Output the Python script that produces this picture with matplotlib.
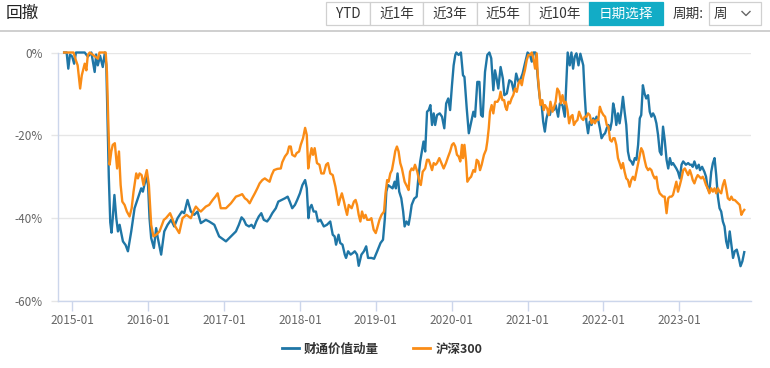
import matplotlib
matplotlib.use("Agg")
import matplotlib.pyplot as plt
import matplotlib.dates as mdates
from matplotlib.patches import Rectangle
from matplotlib.lines import Line2D
from matplotlib.ticker import FixedLocator, FuncFormatter
import pandas as pd

plt.rcParams['font.family'] = ['Noto Sans CJK SC', 'DejaVu Sans']

# ---------------- data ----------------
title = "回撤"
buttons = ["YTD", "近1年", "近3年", "近5年", "近10年", "日期选择"]
period_label = "周期:"
period_value = "周"
series_names = ["财通价值动量", "沪深300"]
y_ticks = [0, -20, -40, -60]
x_tick_labels = ["2015-01", "2016-01", "2017-01", "2018-01", "2019-01",
                 "2020-01", "2021-01", "2022-01", "2023-01"]

blue_dates = [
    '2014-11-23', '2014-12-05', '2014-12-13', '2014-12-21', '2015-01-01', '2015-01-10', '2015-01-19', '2015-03-02',
    '2015-03-17', '2015-04-03', '2015-04-19', '2015-04-26', '2015-05-04', '2015-05-15', '2015-05-28', '2015-06-07',
    '2015-06-14', '2015-06-20', '2015-06-26', '2015-07-03', '2015-07-09', '2015-07-15', '2015-07-23', '2015-08-01',
    '2015-08-09', '2015-08-17', '2015-09-02', '2015-09-15', '2015-09-26', '2015-10-12', '2015-10-28', '2015-11-13',
    '2015-11-29', '2015-12-07', '2015-12-23', '2016-01-01', '2016-01-08', '2016-01-16', '2016-01-29', '2016-02-09',
    '2016-02-17', '2016-03-04', '2016-03-19', '2016-04-04', '2016-04-21', '2016-05-06', '2016-05-22', '2016-06-12',
    '2016-06-23', '2016-07-09', '2016-07-25', '2016-08-10', '2016-08-26', '2016-09-11', '2016-10-05', '2016-10-21',
    '2016-11-15', '2016-12-08', '2017-01-10', '2017-02-03', '2017-02-27', '2017-03-13', '2017-03-26', '2017-04-06',
    '2017-04-17', '2017-05-01', '2017-05-13', '2017-05-24', '2017-06-05', '2017-06-17', '2017-06-29', '2017-07-11',
    '2017-07-27', '2017-08-08', '2017-08-21', '2017-09-07', '2017-09-19', '2017-10-05', '2017-10-21', '2017-11-03',
    '2017-11-13', '2017-11-25', '2017-12-08', '2017-12-19', '2018-01-01', '2018-01-13', '2018-01-26', '2018-02-03',
    '2018-02-11', '2018-02-17', '2018-02-26', '2018-03-08', '2018-03-19', '2018-03-29', '2018-04-10', '2018-04-26',
    '2018-05-11', '2018-05-27', '2018-06-08', '2018-06-17', '2018-06-24', '2018-07-06', '2018-07-14', '2018-07-25',
    '2018-08-05', '2018-08-11', '2018-08-21', '2018-09-02', '2018-09-13', '2018-09-22', '2018-10-03', '2018-10-11',
    '2018-10-24', '2018-11-05', '2018-11-16', '2018-11-25', '2018-12-11', '2018-12-24', '2019-01-08', '2019-01-24',
    '2019-02-05', '2019-02-14', '2019-02-21', '2019-03-01', '2019-03-12', '2019-03-23', '2019-04-02', '2019-04-08',
    '2019-04-16', '2019-04-24', '2019-05-04', '2019-05-13', '2019-05-20', '2019-05-29', '2019-06-08', '2019-06-15',
    '2019-06-23', '2019-07-05', '2019-07-17', '2019-07-25', '2019-08-03', '2019-08-11', '2019-08-19', '2019-08-27',
    '2019-09-05', '2019-09-13', '2019-09-21', '2019-09-29', '2019-10-07', '2019-10-14', '2019-10-23', '2019-11-05',
    '2019-11-16', '2019-11-27', '2019-12-06', '2019-12-16', '2019-12-25', '2020-01-03', '2020-01-11', '2020-01-19',
    '2020-01-24', '2020-02-04', '2020-02-15', '2020-02-25', '2020-03-03', '2020-03-14', '2020-03-24', '2020-04-03',
    '2020-04-15', '2020-04-23', '2020-05-04', '2020-05-14', '2020-05-22', '2020-05-30', '2020-06-10', '2020-06-21',
    '2020-07-01', '2020-07-10', '2020-07-20', '2020-07-28', '2020-08-05', '2020-08-13', '2020-08-24', '2020-09-04',
    '2020-09-11', '2020-09-23', '2020-10-05', '2020-10-16', '2020-10-27', '2020-11-07', '2020-11-18', '2020-11-29',
    '2020-12-08', '2020-12-19', '2021-01-01', '2021-01-13', '2021-01-21', '2021-01-29', '2021-02-08', '2021-02-14',
    '2021-02-22', '2021-03-01', '2021-03-09', '2021-03-17', '2021-03-25', '2021-04-02', '2021-04-10', '2021-04-18',
    '2021-04-26', '2021-05-07', '2021-05-16', '2021-05-28', '2021-06-05', '2021-06-18', '2021-06-29', '2021-07-07',
    '2021-07-13', '2021-07-23', '2021-07-31', '2021-08-08', '2021-08-16', '2021-08-24', '2021-09-03', '2021-09-12',
    '2021-09-26', '2021-10-03', '2021-10-11', '2021-10-19', '2021-10-27', '2021-11-05', '2021-11-13', '2021-11-21',
    '2021-11-29', '2021-12-07', '2021-12-15', '2021-12-23', '2022-01-01', '2022-01-09', '2022-01-17', '2022-01-25',
    '2022-02-02', '2022-02-10', '2022-02-17', '2022-02-24', '2022-03-04', '2022-03-12', '2022-03-20', '2022-03-28',
    '2022-04-05', '2022-04-13', '2022-04-21', '2022-04-29', '2022-05-07', '2022-05-15', '2022-05-23', '2022-06-01',
    '2022-06-09', '2022-06-17', '2022-06-25', '2022-07-02', '2022-07-10', '2022-07-18', '2022-07-26', '2022-08-04',
    '2022-08-12', '2022-08-20', '2022-08-28', '2022-09-05', '2022-09-13', '2022-09-21', '2022-09-29', '2022-10-07',
    '2022-10-15', '2022-10-23', '2022-11-01', '2022-11-09', '2022-11-17', '2022-11-25', '2022-12-02', '2022-12-18',
    '2022-12-26', '2023-01-04', '2023-01-12', '2023-01-20', '2023-02-02', '2023-02-13', '2023-02-21', '2023-03-01',
    '2023-03-07', '2023-03-15', '2023-03-26', '2023-04-05', '2023-04-11', '2023-04-21', '2023-05-02', '2023-05-10',
    '2023-05-18', '2023-05-26', '2023-06-04', '2023-06-12', '2023-06-20', '2023-06-28', '2023-07-06', '2023-07-14',
    '2023-07-22', '2023-07-30', '2023-08-07', '2023-08-15', '2023-08-23', '2023-09-01', '2023-09-09', '2023-09-17',
    '2023-09-25', '2023-10-05', '2023-10-15', '2023-10-23', '2023-11-01', '2023-11-10',
]
blue_values = [
    0, 0, -3.9, -0.5, -1.0, -2.7, 0, 0,
    -1.0, 0, -4.7, -0.5, -3.1, -0.8, -3.5, 0,
    -3.0, -17, -30, -41, -43.5, -40, -34.4, -40,
    -43.2, -41.6, -45.6, -46.5, -48.0, -43.2, -37.6, -35.2,
    -32.8, -33.6, -30.0, -32.0, -40, -44.8, -47.2, -42.4,
    -44.8, -48.8, -43.2, -41.6, -40.4, -42.0, -40.0, -38.4,
    -38.8, -35.6, -38.4, -39.2, -38.4, -41.2, -40.4, -40.8,
    -41.6, -44.4, -45.6, -44.4, -43.2, -41.6, -39.8, -40.4,
    -41.6, -42.0, -41.6, -42.4, -40.8, -39.6, -38.8, -40.4,
    -40.8, -40.0, -38.8, -37.6, -36.0, -35.6, -35.2, -34.8,
    -36.0, -37.6, -36.8, -35.6, -34.0, -32.0, -30.8, -32.8,
    -40.0, -37.6, -36.8, -38.4, -38.4, -40.8, -40.4, -42.0,
    -41.6, -40.8, -44.0, -44.4, -46.4, -44.0, -46.0, -46.4,
    -48.8, -49.6, -48.0, -48.8, -48.4, -48.0, -48.8, -51.5,
    -48.8, -48.0, -46.8, -49.6, -49.6, -49.8, -48.0, -46.0,
    -45.2, -40.0, -33.6, -32.0, -32.4, -32.8, -31.2, -32.8,
    -29.2, -33.6, -35.2, -38.4, -42.0, -40.8, -41.6, -39.6,
    -36.8, -35.3, -34.8, -30.4, -26.3, -23.9, -21.5, -23.9,
    -14.3, -13.9, -12.7, -17.5, -14.7, -17.5, -15.1, -14.7,
    -15.5, -18.3, -12.3, -11.1, -13.9, -7.9, -3.1, -0.6,
    0, -0.6, 0, -5.5, -5.9, -13.5, -19.5, -17.1,
    -14.3, -15.5, -7.1, -7.1, -15.1, -15.5, -4.7, -0.6,
    0, -1.4, -9.1, -4.3, -6.3, -8.7, -3.5, -6.3,
    -10.3, -9.9, -6.7, -7.1, -9.5, -5.1, -7.1, -6.3,
    -5.1, -2.7, 0, -0.6, -2.2, 0, 0, -3.1,
    -7.9, -11.1, -12.3, -16.7, -19.1, -15.9, -14.3, -15.1,
    -13.5, -13.9, -12.7, -15.5, -12.3, -12.7, -15.5, -6.3,
    0, -3.1, 0, -3.9, -1.0, -0.2, -3.1, -0.3,
    -3.1, -10.3, -16.7, -19.5, -16.7, -17.5, -15.9, -16.7,
    -15.5, -16.3, -18.3, -20.7, -19.9, -19.5, -18.3, -17.5,
    -18.7, -16.7, -12.3, -13.9, -17.5, -14.7, -17.1, -14.3,
    -10.7, -14.3, -17.5, -23.9, -25.9, -26.3, -27.1, -25.5,
    -25.9, -22.3, -15.9, -15.1, -7.9, -9.9, -11.1, -10.3,
    -14.3, -15.5, -14.7, -15.5, -17.1, -19.9, -23.9, -24.7,
    -17.9, -21.1, -25.9, -28.0, -25.5, -27.1, -26.7, -28.0,
    -28.8, -30.4, -27.1, -26.3, -27.1, -26.7, -27.1, -27.1,
    -27.6, -26.3, -28.0, -27.1, -28.4, -27.6, -28.8, -30.0,
    -32.8, -33.6, -28.8, -26.7, -25.5, -29.6, -34.8, -37.6,
    -38.4, -40.8, -42.0, -45.6, -47.2, -43.2, -46.4, -49.6,
    -48.0, -47.6, -49.6, -51.6, -50.4, -48.2,
]

orange_dates = [
    '2014-11-23', '2015-01-07', '2015-01-18', '2015-01-27', '2015-02-08', '2015-02-16', '2015-02-24', '2015-03-02',
    '2015-03-10', '2015-03-17', '2015-03-26', '2015-05-05', '2015-05-12', '2015-06-11', '2015-06-17', '2015-06-23',
    '2015-06-30', '2015-07-08', '2015-07-15', '2015-07-25', '2015-08-05', '2015-08-14', '2015-08-22', '2015-08-30',
    '2015-09-10', '2015-09-21', '2015-10-04', '2015-10-14', '2015-10-23', '2015-11-05', '2015-11-13', '2015-11-21',
    '2015-12-01', '2015-12-10', '2015-12-16', '2015-12-26', '2016-01-05', '2016-01-16', '2016-01-27', '2016-02-09',
    '2016-02-25', '2016-03-08', '2016-03-17', '2016-03-27', '2016-04-16', '2016-04-29', '2016-05-11', '2016-05-30',
    '2016-06-15', '2016-07-04', '2016-07-25', '2016-08-06', '2016-08-18', '2016-09-01', '2016-09-11', '2016-10-05',
    '2016-10-21', '2016-11-07', '2016-11-20', '2016-12-01', '2016-12-08', '2016-12-16', '2017-01-10', '2017-02-03',
    '2017-02-27', '2017-03-16', '2017-03-29', '2017-04-11', '2017-04-22', '2017-05-04', '2017-05-16', '2017-05-29',
    '2017-06-10', '2017-06-21', '2017-07-04', '2017-07-16', '2017-07-27', '2017-08-08', '2017-08-18', '2017-08-29',
    '2017-09-14', '2017-10-01', '2017-10-08', '2017-10-21', '2017-11-02', '2017-11-10', '2017-11-18', '2017-11-25',
    '2017-12-08', '2017-12-16', '2017-12-28', '2018-01-05', '2018-01-16', '2018-01-26', '2018-02-03', '2018-02-10',
    '2018-02-17', '2018-02-26', '2018-03-05', '2018-03-13', '2018-03-24', '2018-04-05', '2018-04-14', '2018-04-26',
    '2018-05-07', '2018-05-16', '2018-05-27', '2018-06-08', '2018-06-21', '2018-06-29', '2018-07-06', '2018-07-14',
    '2018-07-22', '2018-08-01', '2018-08-08', '2018-08-16', '2018-08-24', '2018-09-07', '2018-09-18', '2018-09-26',
    '2018-10-03', '2018-10-11', '2018-10-19', '2018-10-27', '2018-11-05', '2018-11-13', '2018-11-21', '2018-12-02',
    '2018-12-11', '2018-12-22', '2019-01-01', '2019-01-08', '2019-01-19', '2019-01-29', '2019-02-10', '2019-02-17',
    '2019-02-25', '2019-03-04', '2019-03-12', '2019-03-20', '2019-03-29', '2019-04-05', '2019-04-13', '2019-04-21',
    '2019-04-29', '2019-05-07', '2019-05-20', '2019-06-01', '2019-06-08', '2019-06-15', '2019-06-23', '2019-07-01',
    '2019-07-09', '2019-07-20', '2019-07-30', '2019-08-06', '2019-08-15', '2019-08-27', '2019-09-05', '2019-09-13',
    '2019-09-21', '2019-09-29', '2019-10-07', '2019-10-16', '2019-10-23', '2019-11-03', '2019-11-13', '2019-11-24',
    '2019-12-05', '2019-12-16', '2019-12-25', '2020-01-03', '2020-01-11', '2020-01-19', '2020-01-27', '2020-02-04',
    '2020-02-12', '2020-02-20', '2020-02-25', '2020-03-03', '2020-03-11', '2020-03-17', '2020-03-27', '2020-04-04',
    '2020-04-15', '2020-04-23', '2020-05-01', '2020-05-09', '2020-05-17', '2020-05-25', '2020-06-05', '2020-06-15',
    '2020-06-21', '2020-06-28', '2020-07-04', '2020-07-12', '2020-07-20', '2020-07-28', '2020-08-09', '2020-08-18',
    '2020-08-24', '2020-09-02', '2020-09-10', '2020-09-16', '2020-09-23', '2020-10-01', '2020-10-08', '2020-10-16',
    '2020-10-24', '2020-11-02', '2020-11-10', '2020-11-18', '2020-11-26', '2020-12-04', '2020-12-11', '2020-12-19',
    '2020-12-28', '2021-01-05', '2021-01-13', '2021-01-21', '2021-01-29', '2021-02-06', '2021-02-14', '2021-02-19',
    '2021-02-25', '2021-03-04', '2021-03-13', '2021-03-20', '2021-03-26', '2021-04-05', '2021-04-13', '2021-04-21',
    '2021-05-01', '2021-05-09', '2021-05-16', '2021-05-24', '2021-06-02', '2021-06-10', '2021-06-18', '2021-06-26',
    '2021-07-04', '2021-07-12', '2021-07-20', '2021-07-28', '2021-08-05', '2021-08-12', '2021-08-21', '2021-08-29',
    '2021-09-06', '2021-09-18', '2021-09-26', '2021-10-03', '2021-10-11', '2021-10-19', '2021-10-27', '2021-11-05',
    '2021-11-13', '2021-11-21', '2021-11-29', '2021-12-07', '2021-12-15', '2021-12-23', '2022-01-01', '2022-01-09',
    '2022-01-17', '2022-01-25', '2022-02-02', '2022-02-10', '2022-02-17', '2022-02-24', '2022-03-04', '2022-03-12',
    '2022-03-20', '2022-03-28', '2022-04-05', '2022-04-13', '2022-04-21', '2022-04-29', '2022-05-07', '2022-05-15',
    '2022-05-23', '2022-06-01', '2022-06-09', '2022-06-17', '2022-06-25', '2022-07-02', '2022-07-10', '2022-07-18',
    '2022-07-26', '2022-08-04', '2022-08-12', '2022-08-20', '2022-08-28', '2022-09-05', '2022-09-13', '2022-09-21',
    '2022-09-29', '2022-10-07', '2022-10-15', '2022-10-23', '2022-11-01', '2022-11-09', '2022-11-17', '2022-11-25',
    '2022-12-02', '2022-12-10', '2022-12-18', '2022-12-26', '2023-01-04', '2023-01-12', '2023-01-20', '2023-01-28',
    '2023-02-05', '2023-02-13', '2023-02-21', '2023-03-01', '2023-03-07', '2023-03-15', '2023-03-23', '2023-03-31',
    '2023-04-08', '2023-04-16', '2023-04-24', '2023-05-02', '2023-05-10', '2023-05-18', '2023-05-26', '2023-06-04',
    '2023-06-12', '2023-06-20', '2023-06-28', '2023-07-06', '2023-07-14', '2023-07-22', '2023-07-30', '2023-08-07',
    '2023-08-15', '2023-08-23', '2023-09-01', '2023-09-09', '2023-09-17', '2023-09-25', '2023-10-03', '2023-10-11',
    '2023-10-19', '2023-10-27', '2023-11-04', '2023-11-10',
]
orange_values = [
    0, 0, -1.8, -3.1, -8.7, -5.5, -3.9, -2.7,
    -4.3, -0.6, 0, -1.5, 0, 0, -4.7, -15.9,
    -27.1, -23.9, -22.3, -21.9, -28.0, -23.9, -32.0, -36.0,
    -36.8, -38.4, -39.6, -37.6, -33.6, -29.2, -30.4, -29.2,
    -29.6, -32.0, -30.4, -28.4, -32.0, -41.6, -44.4, -44.0,
    -43.2, -41.6, -40.4, -40.0, -38.8, -40.4, -42.0, -43.6,
    -40.0, -39.2, -40.0, -38.4, -37.2, -38.0, -38.4, -37.2,
    -36.8, -35.6, -34.8, -34.0, -35.6, -37.6, -37.6, -36.4,
    -34.8, -34.5, -34.2, -35.2, -35.6, -36.4, -35.2, -34.0,
    -32.8, -31.6, -30.8, -30.4, -30.8, -31.2, -29.6, -28.4,
    -28.1, -28.0, -26.5, -25.1, -24.3, -22.7, -22.7, -24.7,
    -25.1, -24.3, -23.9, -22.3, -20.7, -18.2, -19.9, -28.0,
    -25.5, -23.1, -24.7, -23.1, -26.7, -27.1, -29.2, -29.2,
    -27.1, -26.7, -29.2, -29.6, -32.4, -34.8, -36.8, -35.2,
    -34.0, -36.0, -37.6, -39.2, -36.8, -37.6, -36.0, -35.6,
    -36.8, -39.2, -40.8, -38.4, -40.0, -39.2, -40.4, -40.4,
    -40.0, -42.8, -43.6, -42.4, -40.4, -39.2, -38.4, -34.0,
    -30.8, -31.2, -29.2, -28.4, -25.9, -23.8, -22.7, -23.9,
    -26.7, -28.0, -31.2, -32.4, -33.2, -28.8, -28.0, -28.4,
    -27.1, -28.8, -31.2, -32.0, -28.8, -28.0, -25.9, -25.9,
    -27.1, -28.4, -26.7, -27.1, -26.7, -25.5, -26.7, -28.0,
    -26.7, -25.1, -23.9, -22.3, -21.9, -22.7, -24.7, -25.1,
    -26.3, -22.3, -25.5, -22.3, -26.3, -31.2, -30.4, -30.0,
    -28.4, -28.8, -25.9, -26.3, -28.4, -27.1, -24.7, -23.5,
    -21.5, -18.3, -14.3, -12.7, -14.7, -11.9, -11.9, -11.1,
    -9.5, -11.5, -11.5, -13.1, -13.9, -11.9, -12.3, -11.1,
    -10.3, -8.7, -9.5, -7.5, -6.7, -7.9, -5.9, -4.3,
    -1.8, -0.6, -0.6, 0, -1.4, -3.9, -0.2, -5.5,
    -8.7, -12.7, -11.5, -13.9, -12.7, -13.5, -15.1, -11.9,
    -14.3, -13.1, -11.9, -8.7, -9.5, -12.3, -10.3, -12.3,
    -11.9, -13.9, -17.1, -15.5, -15.1, -17.5, -16.7, -16.3,
    -14.3, -15.9, -16.3, -15.5, -15.5, -14.7, -15.1, -17.1,
    -16.3, -17.1, -16.3, -16.3, -13.1, -14.3, -15.1, -15.5,
    -17.5, -17.9, -21.1, -21.5, -20.7, -20.7, -22.3, -25.5,
    -26.7, -28.0, -26.7, -28.8, -30.4, -30.8, -32.4, -30.8,
    -30.0, -30.8, -28.8, -26.7, -24.7, -23.1, -23.9, -25.9,
    -27.6, -28.4, -28.0, -28.4, -29.6, -30.4, -30.0, -32.8,
    -34.0, -34.4, -34.8, -34.8, -38.8, -35.2, -34.8, -34.8,
    -34.4, -32.8, -31.2, -33.6, -32.0, -30.4, -28.4, -28.0,
    -28.8, -29.6, -28.4, -29.6, -30.8, -31.6, -30.4, -29.6,
    -30.0, -30.4, -30.0, -30.8, -32.0, -32.8, -34.0, -32.8,
    -33.6, -32.8, -34.0, -32.8, -33.6, -34.0, -32.0, -30.8,
    -32.8, -35.2, -35.6, -34.8, -35.6, -35.6, -36.0, -36.4,
    -36.8, -39.2, -38.4, -38.0,
]

assert len(blue_dates) == len(blue_values), (len(blue_dates), len(blue_values))
assert len(orange_dates) == len(orange_values), (len(orange_dates), len(orange_values))

# ---------------- styling ----------------
W, H = 770, 368
BLUE = '#1f76a6'
ORANGE = '#fa8c16'
GRID = '#e6e6e6'
AXIS = '#ccd6eb'
TEAL = '#12acc6'


def fx(px):
    return px / W


def fy(py):
    return 1 - py / H


fig = plt.figure(figsize=(W / 100, H / 100), dpi=100)
fig.patch.set_facecolor('white')

ax = fig.add_axes([fx(57.7), fy(301), fx(750.7) - fx(57.7), fy(52.5) - fy(301)])

bd = pd.to_datetime(blue_dates)
od = pd.to_datetime(orange_dates)
ax.plot(bd, blue_values, color=BLUE, lw=1.7, clip_on=False, zorder=3, solid_joinstyle='round')
ax.plot(od, orange_values, color=ORANGE, lw=1.7, clip_on=False, zorder=4, solid_joinstyle='round')

ax.set_xlim(pd.Timestamp('2014-10-23'), pd.Timestamp('2023-12-11'))
ax.set_ylim(-60, 0)

ax.yaxis.set_major_locator(FixedLocator(y_ticks))
ax.yaxis.set_major_formatter(FuncFormatter(lambda v, p: f"{int(round(v))}%"))
ax.grid(axis='y', color=GRID, lw=1)
ax.set_axisbelow(True)

xt = [pd.Timestamp(s + '-01') for s in x_tick_labels]
ax.set_xticks(xt)
ax.set_xticklabels(x_tick_labels)

for s in ['top', 'right']:
    ax.spines[s].set_visible(False)
ax.spines['left'].set_color(AXIS)
ax.spines['bottom'].set_color(AXIS)
ax.spines['left'].set_linewidth(1)
ax.spines['bottom'].set_linewidth(1)

ax.tick_params(axis='x', length=7.5, width=1, color=AXIS, pad=1.5,
               labelsize=8.5, labelcolor='#666666')
ax.tick_params(axis='y', length=5.2, width=1, color=GRID, pad=5.5,
               labelsize=8.5, labelcolor='#666666')

# ---------------- header ----------------
fig.text(fx(6), fy(13), title, fontsize=12, color='#222222', va='center', ha='left')
fig.add_artist(Line2D([0, 1], [fy(31), fy(31)], transform=fig.transFigure,
                      color='#cccccc', lw=1.3))

edges = [325.7, 370, 423.3, 476.7, 529.3, 589, 662.7]
top, bot = 2, 24.5
for i, lab in enumerate(buttons):
    x0, x1 = edges[i], edges[i + 1]
    active = (i == len(buttons) - 1)
    rect = Rectangle((fx(x0), fy(bot)), fx(x1) - fx(x0), fy(top) - fy(bot),
                     transform=fig.transFigure,
                     facecolor=TEAL if active else 'white',
                     edgecolor=TEAL if active else '#d0d0d0', lw=0.9)
    fig.add_artist(rect)
    fig.text(fx((x0 + x1) / 2), fy(13.5), lab, fontsize=9.8,
             color='white' if active else '#333333', ha='center', va='center')

fig.text(fx(673), fy(13.5), period_label, fontsize=9.8, color='#333333', ha='left', va='center')
dd = Rectangle((fx(709.3), fy(bot)), fx(760.7) - fx(709.3), fy(top) - fy(bot),
               transform=fig.transFigure, facecolor='white', edgecolor='#d0d0d0', lw=0.9)
fig.add_artist(dd)
fig.text(fx(714), fy(13.5), period_value, fontsize=9.8, color='#333333', ha='left', va='center')
fig.add_artist(Line2D([fx(742), fx(746), fx(750)], [fy(11.5), fy(15.5), fy(11.5)],
                      transform=fig.transFigure, color='#666666', lw=1.0))

# ---------------- legend ----------------
handles = [Line2D([], [], color=BLUE, lw=2), Line2D([], [], color=ORANGE, lw=2)]
leg = fig.legend(handles, series_names, loc='center', bbox_to_anchor=(fx(382), fy(349)),
                 ncol=2, frameon=False, handlelength=1.35, handletextpad=0.45,
                 columnspacing=2.7, prop={'size': 9, 'weight': 'bold'})
for t in leg.get_texts():
    t.set_color('#333333')

fig.savefig('out.png', dpi=100, facecolor='white')
